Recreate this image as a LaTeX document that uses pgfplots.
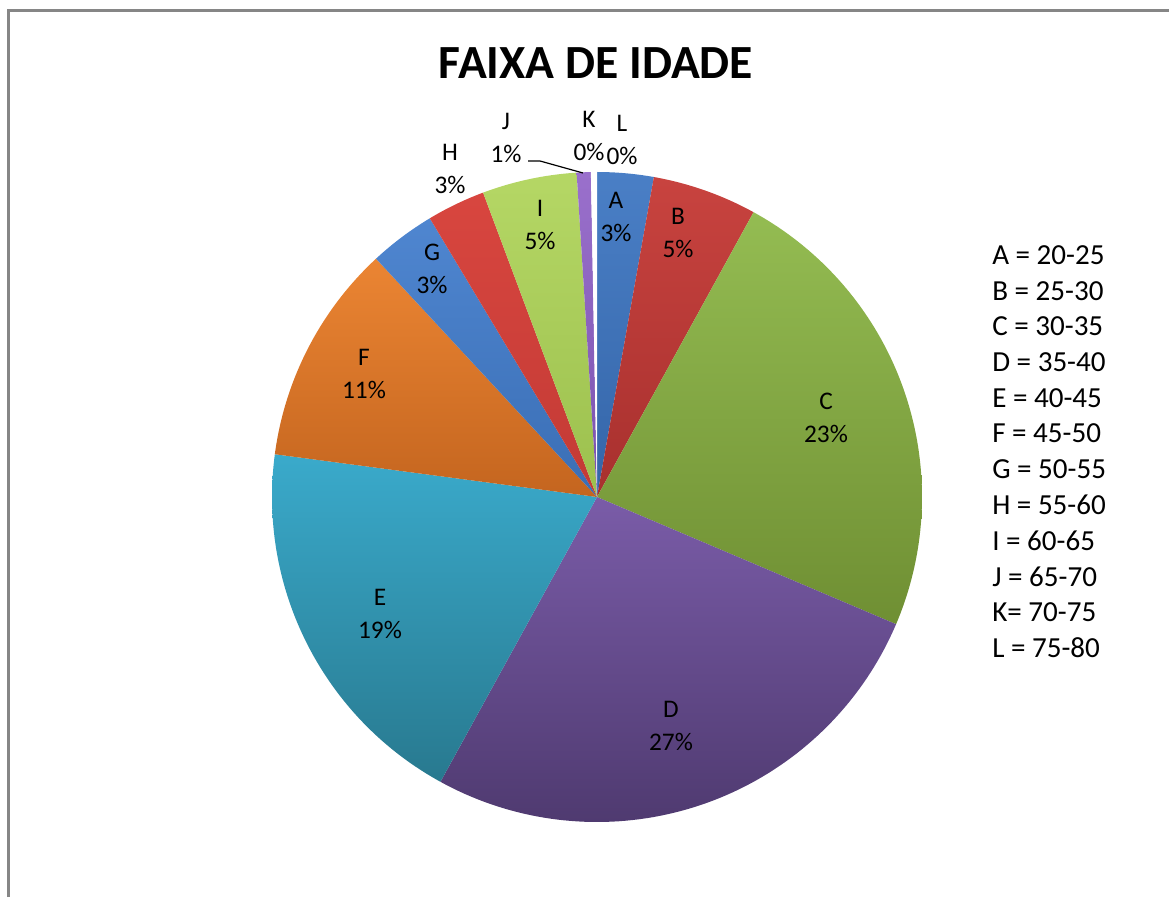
\documentclass[border=0pt]{standalone}
\usepackage{pgfplots}
\pgfplotsset{compat=1.18}
\usepackage{fontspec}
\setmainfont{Carlito}
\definecolor{cAt}{HTML}{4A7FC6}\definecolor{cAb}{HTML}{3465A8}
\definecolor{cBt}{HTML}{C8433F}\definecolor{cBb}{HTML}{A8302E}
\definecolor{cCt}{HTML}{94BC52}\definecolor{cCb}{HTML}{6F8F33}
\definecolor{cDt}{HTML}{7A5CA8}\definecolor{cDb}{HTML}{4F3A70}
\definecolor{cEt}{HTML}{3AAACB}\definecolor{cEb}{HTML}{28798F}
\definecolor{cFt}{HTML}{EB8533}\definecolor{cFb}{HTML}{C4651F}
\definecolor{cGt}{HTML}{4F86D0}\definecolor{cGb}{HTML}{3A6EB5}
\definecolor{cHt}{HTML}{D8463F}\definecolor{cHb}{HTML}{C33A35}
\definecolor{cIt}{HTML}{B5D765}\definecolor{cIb}{HTML}{9CC04E}
\definecolor{cJt}{HTML}{9A70CC}\definecolor{cJb}{HTML}{7A52AE}
\definecolor{frame}{HTML}{868686}
\newcommand\cum{0}
\newcommand\slice[2]{%
 \pgfmathsetmacro\aS{\cum*3.6}%
 \pgfmathsetmacro\aE{(\cum+#1)*3.6}%
 \edef\doplot{\noexpand\addplot[draw=none, #2, domain=\aS:\aE, samples=80] ({597+325*sin(x)},{400+325*cos(x)}) -- (axis cs:597,400) -- cycle;}%
 \doplot
 \pgfmathsetmacro\tmp{\cum+#1}\xdef\cum{\tmp}}
\begin{document}
\begin{tikzpicture}
\begin{axis}[scale only axis, width=876.75pt, height=672.75pt,
  xmin=0, xmax=1169, ymin=0, ymax=897, hide axis, clip=false]
% percentages, clockwise from 12 o'clock
\slice{2.8}{top color=cAt, bottom color=cAb}
\slice{5.2}{top color=cBt, bottom color=cBb}
\slice{23.4}{top color=cCt, bottom color=cCb}
\slice{26.6}{top color=cDt, bottom color=cDb}
\slice{19.1}{top color=cEt, bottom color=cEb}
\slice{11.0}{top color=cFt, bottom color=cFb}
\slice{3.3}{top color=cGt, bottom color=cGb}
\slice{2.9}{top color=cHt, bottom color=cHb}
\slice{4.7}{top color=cIt, bottom color=cIb}
\slice{0.7}{top color=cJt, bottom color=cJb}
\slice{0.15}{fill=white}
\slice{0.15}{fill=white}
% frame
\draw[frame, line width=2.25pt] (axis cs:8.5,0) -- (axis cs:8.5,886) -- (axis cs:1169,886);
% title
\node[font=\fontsize{35.7}{42}\selectfont\bfseries] at (axis cs:596,834) {FAIXA DE IDADE};
% data labels
\begin{scope}[every node/.style={align=center, font=\fontsize{19}{24.75}\selectfont}]
\node at (axis cs:616,680) {A\\3\%};
\node at (axis cs:678,664) {B\\5\%};
\node at (axis cs:826,479) {C\\23\%};
\node at (axis cs:671,171) {D\\27\%};
\node at (axis cs:380,283) {E\\19\%};
\node at (axis cs:364,523) {F\\11\%};
\node at (axis cs:432,628) {G\\3\%};
\node at (axis cs:450,728) {H\\3\%};
\node at (axis cs:540,672) {I\\5\%};
\node at (axis cs:506,759) {J\\1\%};
\node at (axis cs:589,761) {K\\0\%};
\node at (axis cs:622,757) {L\\0\%};
\end{scope}
\draw[black, line width=0.9pt] (axis cs:528,736) -- (axis cs:540,736) -- (axis cs:583,724);
% legend
\begin{scope}[every node/.style={anchor=west, inner sep=0pt, font=\fontsize{21.8}{25}\selectfont}]
\node at (axis cs:992,642) {A = 20-25};
\node at (axis cs:992,606.3) {B = 25-30};
\node at (axis cs:992,570.6) {C = 30-35};
\node at (axis cs:992,534.9) {D = 35-40};
\node at (axis cs:992,499.2) {E = 40-45};
\node at (axis cs:992,463.5) {F = 45-50};
\node at (axis cs:992,427.8) {G = 50-55};
\node at (axis cs:992,392.1) {H = 55-60};
\node at (axis cs:992,356.4) {I = 60-65};
\node at (axis cs:992,320.7) {J = 65-70};
\node at (axis cs:992,285.0) {K= 70-75};
\node at (axis cs:992,249.3) {L = 75-80};
\end{scope}
\end{axis}
\pgfresetboundingbox
\path (current axis.south west) rectangle (current axis.north east);
\end{tikzpicture}
\end{document}
